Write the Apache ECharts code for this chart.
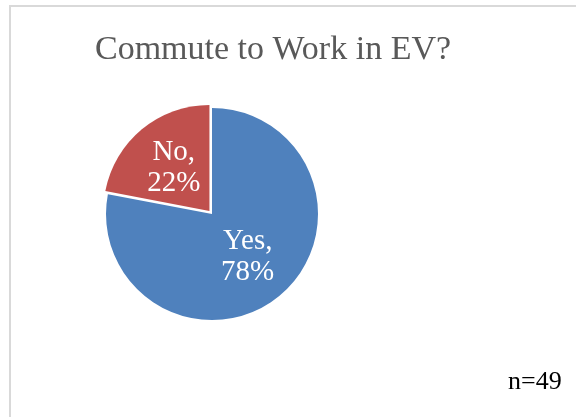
<!DOCTYPE html>
<html>
<head>
<meta charset="utf-8">
<script src="https://cdn.jsdelivr.net/npm/echarts@6/dist/echarts.min.js"></script>
<style>
html,body{margin:0;padding:0;background:#fff;}
#c{width:576px;height:417px;}
</style>
</head>
<body>
<div id="c"></div>
<script>
const categories = ['Yes', 'No'];
const values = [78, 22];
const colors = ['#4F81BD', '#C0504D'];
const titleText = 'Commute to Work in EV?';
const noteText = 'n=49';

const chart = echarts.init(document.getElementById('c'), null, {renderer: 'canvas'});
chart.setOption({
  animation: false,
  backgroundColor: '#ffffff',
  title: {
    text: titleText,
    left: 268,
    top: 28,
    textAlign: 'center',
    textStyle: {fontFamily: 'Liberation Serif', fontWeight: 'normal', fontSize: 34, color: '#595959'}
  },
  graphic: [
    {type: 'rect', shape: {x: 10, y: 6, width: 600, height: 450}, style: {fill: 'none', stroke: '#D9D9D9', lineWidth: 2}, silent: true},
    {type: 'text', left: 508, top: 369, style: {text: noteText, fontFamily: 'Liberation Serif', fontSize: 26, fill: '#000000'}}
  ],
  series: [{
    type: 'pie',
    center: [212, 214],
    radius: 106,
    startAngle: 90,
    clockwise: true,
    selectedMode: 'multiple',
    selectedOffset: 4,
    label: {
      show: true,
      position: 'inside',
      formatter: p => p.name + ',\n' + p.value + '%',
      fontFamily: 'Liberation Serif',
      fontSize: 29,
      lineHeight: 31,
      color: '#ffffff'
    },
    labelLine: {show: false},
    emphasis: {disabled: true},
    data: categories.map((n, i) => ({
      name: n,
      value: values[i],
      selected: n === 'No',
      itemStyle: {color: colors[i]}
    }))
  }]
});
</script>
</body>
</html>
